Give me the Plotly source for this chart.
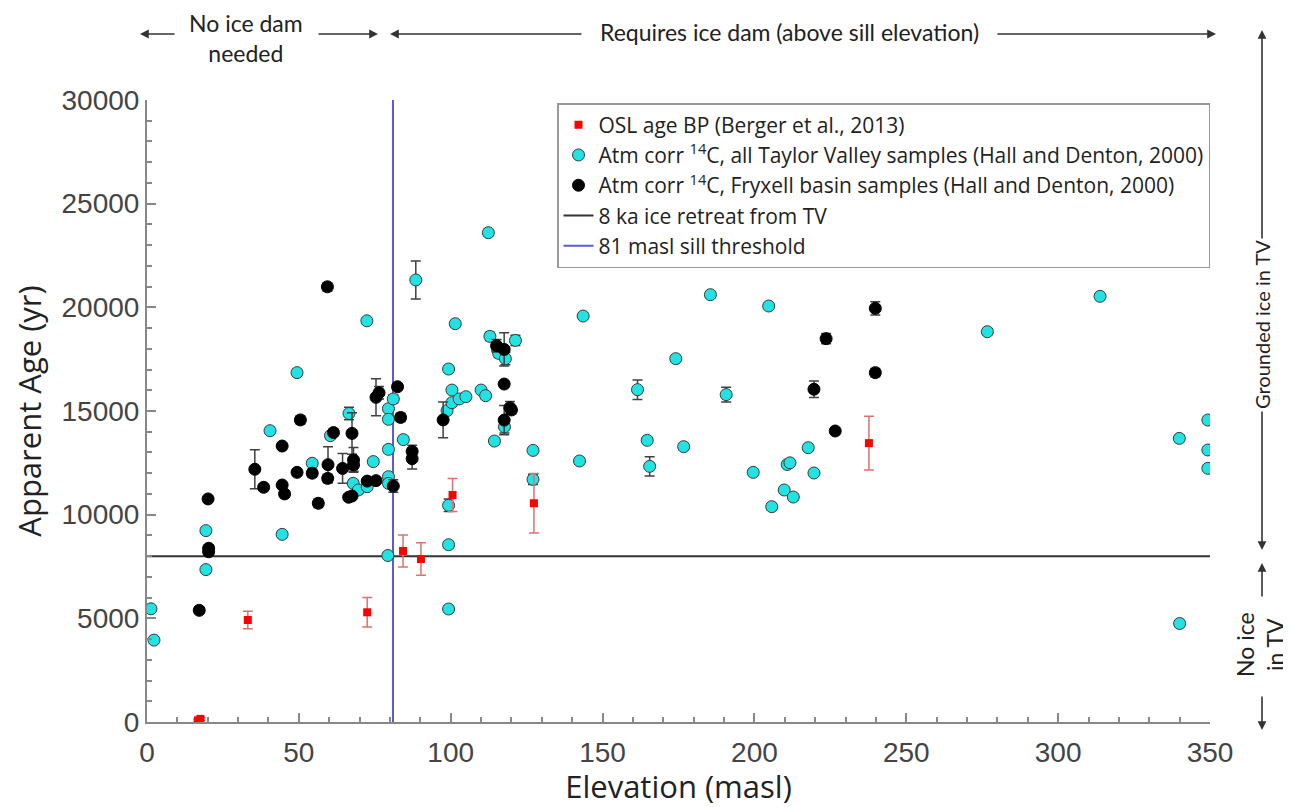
import plotly.graph_objects as go

# ---------------- data ----------------
osl_elev = [16.8, 17.6, 33.2, 72.5, 84.3, 90.2, 100.6, 127.4, 237.7]
osl_age = [80, 150, 4920, 5290, 8250, 7860, 10950, 10550, 13450]
osl_err = [60, 60, 420, 710, 770, 780, 800, 1430, 1300]

tv_elev = [1.3, 2.3, 19.4, 19.4, 40.5, 44.5, 49.4, 54.4, 60.4, 66.5, 67.9, 69.6, 72.5, 72.4,
           74.5, 79.5, 79.5, 81.1, 79.5, 79.5, 79.5, 79.3, 84.4, 88.5, 98.8, 99.3, 100.4,
           100.4, 102.8, 105.0, 99.3, 99.3, 99.3, 101.5, 110.0, 111.5, 112.4, 112.9, 114.4,
           115.4, 115.8, 118.0, 117.7, 121.3, 127.1, 127.1, 142.4, 143.6, 161.5, 164.7,
           165.5, 174.1, 176.7, 185.5, 190.7, 199.6, 204.7, 205.7, 209.8, 210.8, 211.7,
           212.8, 217.7, 219.6, 276.7, 313.8, 339.9, 340.0, 349.3, 349.3, 349.3]
tv_age = [5460, 3950, 7350, 9230, 14050, 9050, 16850, 12480, 13810, 14880, 11510, 11190, 11350,
          19350, 12560, 15110, 14600, 15580, 13150, 11830, 11510, 8030, 13620, 21320, 15020,
          17025, 16010, 15400, 15580, 15690, 10450, 8550, 5450, 19210, 16010, 15740, 23600,
          18600, 13550, 17970, 17780, 17525, 14240, 18405, 13100, 11700, 12590, 19580, 16030,
          13585, 12330, 17525, 13280, 20610, 15790, 12040, 20065, 10385, 11190, 12420, 12500,
          10850, 13230, 12010, 18825, 20530, 13680, 4750, 14565, 13120, 12235]
tv_err = [150, 150, 150, 150, 150, 150, 150, 150, 150, 300, 150, 150, 150, 150,
          150, 150, 150, 200, 150, 150, 150, 150, 150, 920, 150, 150, 150,
          150, 150, 150, 300, 150, 150, 150, 150, 150, 150, 200, 150,
          200, 200, 300, 300, 250, 150, 250, 150, 150, 470, 150,
          460, 150, 150, 150, 350, 150, 150, 150, 150, 150, 150,
          150, 150, 150, 150, 150, 150, 150, 150, 150, 150]

fb_elev = [17.2, 20.3, 20.3, 20.1, 35.5, 38.4, 44.5, 45.3, 44.5, 50.5, 49.4, 54.4, 56.4, 59.4,
           59.6, 59.5, 61.4, 64.4, 67.5, 68.0, 68.0, 66.4, 67.5, 72.5, 75.4, 75.4, 76.4, 82.5,
           83.5, 81.1, 87.3, 87.3, 97.5, 115.1, 117.6, 117.6, 117.6, 119.5, 120.0, 219.6,
           223.6, 226.6, 239.8, 239.8]
fb_age = [5385, 8380, 8210, 10760, 12190, 11320, 11430, 11000, 13310, 14570, 12040, 12000, 10550,
          20990, 12410, 11750, 13960, 12230, 13920, 12640, 12400, 10840, 10900, 11620, 11640,
          15660, 15880, 16170, 14690, 11380, 13050, 12700, 14570, 18150, 17970, 16300, 14560,
          15160, 15050, 16050, 18490, 14035, 19950, 16850]
fb_err = [150, 150, 150, 150, 940, 150, 150, 150, 150, 200, 150, 200, 200, 200,
          870, 200, 150, 720, 1000, 600, 300, 150, 150, 150, 150, 890, 300, 150,
          200, 300, 300, 500, 860, 300, 800, 150, 700, 300, 200, 400,
          250, 150, 320, 200]

retreat_x = [0, 350]
retreat_y = [8000, 8000]
sill_x = [81, 81]
sill_y = [0, 30000]

x_range = [0, 350]
y_range = [0, 30000]

# ---------------- layout helpers ----------------
# target plot-area edges in window pixels
L, R, T, B = 147, 1210, 100, 722
OFF = 8  # page body margin added by the browser
WIN_W, WIN_H = 1291, 807
W, H = WIN_W - OFF, WIN_H - OFF


def px2x(px):
    return (px - L) / (R - L)


def py2y(py):
    return (B - py) / (B - T)


fig = go.Figure()

fig.add_trace(go.Scatter(
    x=retreat_x, y=retreat_y, mode="lines", name="8 ka ice retreat from TV",
    line=dict(color="#333333", width=2), legendrank=4))
fig.add_trace(go.Scatter(
    x=sill_x, y=sill_y, mode="lines", name="81 masl sill threshold",
    line=dict(color="#5b5bd6", width=2), legendrank=5))

fig.add_trace(go.Scatter(
    x=tv_elev, y=tv_age, mode="markers",
    name="Atm corr <sup>14</sup>C, all Taylor Valley samples (Hall and Denton, 2000)",
    marker=dict(symbol="circle", size=12, color="#22e3e3", line=dict(color="#3a3a3a", width=1)),
    error_y=dict(type="data", array=tv_err, color="#404040", thickness=1.5, width=5),
    legendrank=2))
fig.add_trace(go.Scatter(
    x=fb_elev, y=fb_age, mode="markers",
    name="Atm corr <sup>14</sup>C, Fryxell basin samples (Hall and Denton, 2000)",
    marker=dict(symbol="circle", size=12, color="#000000", line=dict(color="#000000", width=1)),
    error_y=dict(type="data", array=fb_err, color="#404040", thickness=1.5, width=5),
    legendrank=3))
fig.add_trace(go.Scatter(
    x=osl_elev, y=osl_age, mode="markers", name="OSL age BP (Berger et al., 2013)",
    marker=dict(symbol="square", size=8, color="#ff0000"),
    error_y=dict(type="data", array=osl_err, color="#e07070", thickness=1.5, width=5),
    legendrank=1))

axis_font = dict(family="Liberation Sans, Arial, sans-serif", size=28, color="#444444")
title_font = dict(family="Open Sans, sans-serif", size=31, color="#222222")

fig.update_layout(
    width=W, height=H,
    margin=dict(l=L - OFF, r=WIN_W - R, t=T - OFF, b=WIN_H - B),
    paper_bgcolor="white", plot_bgcolor="white",
    showlegend=True,
    legend=dict(x=px2x(557), y=py2y(103), xanchor="left", yanchor="top",
                bgcolor="white", bordercolor="#999999", borderwidth=1.5,
                font=dict(family="Open Sans, sans-serif", size=21, color="#222222"),
                tracegroupgap=0, itemwidth=30),
    xaxis=dict(range=x_range, dtick=50, tick0=0, showgrid=False, zeroline=False,
               showline=True, linecolor="#888888", linewidth=2, automargin=False,
               ticks="inside", ticklen=9, tickwidth=1.5, tickcolor="#888888",
               minor=dict(dtick=10, ticks="inside", ticklen=5, tickcolor="#888888", tickwidth=1.5, showgrid=False),
               tickfont=axis_font, tickformat="d", ticklabelstandoff=4,
               title=dict(text="Elevation (masl)", font=title_font, standoff=10)),
    yaxis=dict(range=y_range, dtick=5000, tick0=0, showgrid=False, zeroline=False,
               showline=True, linecolor="#888888", linewidth=2, automargin=False,
               ticks="inside", ticklen=9, tickwidth=1.5, tickcolor="#888888",
               minor=dict(dtick=1000, ticks="inside", ticklen=5, tickcolor="#888888", tickwidth=1.5, showgrid=False),
               tickfont=axis_font, tickformat="d",
               title=dict(text="Apparent Age (yr)", font=title_font, standoff=14)),
)

ann_font = dict(family="Lato, sans-serif", size=23, color="#222222")
side_font = dict(family="Lato, sans-serif", size=20, color="#222222")
side_font2 = dict(family="Lato, sans-serif", size=23, color="#222222")
arrow_color = "#333333"

annotations = []


def arrow(head_px, head_py, tail_px, tail_py):
    annotations.append(dict(
        xref="paper", yref="paper", x=px2x(head_px), y=py2y(head_py),
        ax=tail_px - head_px, ay=tail_py - head_py, axref="pixel", ayref="pixel",
        text="", showarrow=True, arrowhead=2, arrowsize=1.1, arrowwidth=1.6,
        arrowcolor=arrow_color, standoff=0, startstandoff=0))


# top arrows
arrow(140, 34, 176, 34)
arrow(378, 34, 317, 34)
arrow(390, 34, 583, 34)
arrow(1216, 34, 996, 34)
# right arrows
arrow(1262, 30, 1262, 240)
arrow(1262, 550, 1262, 410)
arrow(1262, 563, 1262, 598)
arrow(1262, 730, 1262, 695)

annotations += [
    dict(xref="paper", yref="paper", x=px2x(246), y=py2y(38), text="No ice dam<br>needed",
         showarrow=False, font=ann_font, xanchor="center", yanchor="middle", align="center"),
    dict(xref="paper", yref="paper", x=px2x(789), y=py2y(32),
         text="Requires ice dam (above sill elevation)",
         showarrow=False, font=ann_font, xanchor="center", yanchor="middle"),
    dict(xref="paper", yref="paper", x=px2x(1262), y=py2y(325), text="Grounded ice in TV",
         textangle=-90, showarrow=False, font=side_font, xanchor="center", yanchor="middle"),
    dict(xref="paper", yref="paper", x=px2x(1260), y=py2y(645), text="No ice<br>in TV",
         textangle=-90, showarrow=False, font=side_font2, xanchor="center", yanchor="middle",
         align="center"),
]

fig.update_layout(annotations=annotations)

fig.write_html("out.html")
